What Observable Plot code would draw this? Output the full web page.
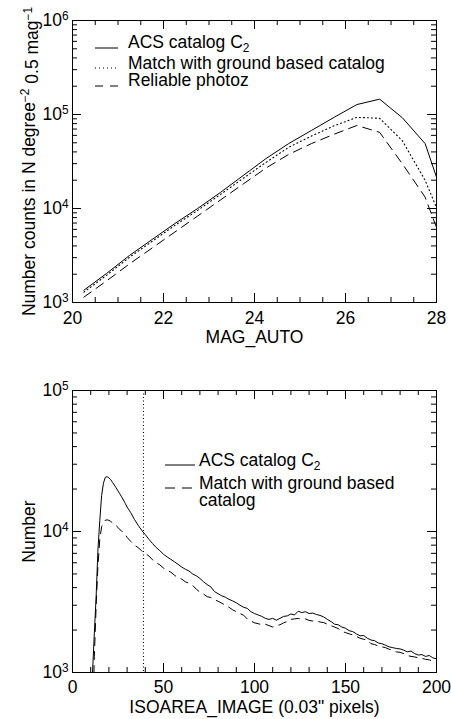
<!DOCTYPE html>
<html><head><meta charset="utf-8">
<script src="https://cdn.jsdelivr.net/npm/d3@7"></script>
<script src="https://cdn.jsdelivr.net/npm/@observablehq/plot@0.6"></script>
<style>
body{margin:0;background:#fff;}
#chart{width:451px;}
#chart svg{display:block;}
</style></head><body><div id="chart"></div>
<script>
// ---- Top panel: number counts vs MAG_AUTO ----
const magBins = [20.25, 20.75, 21.25, 21.75, 22.25, 22.75, 23.25, 23.75, 24.25, 24.75, 25.25, 25.75, 26.25, 26.75, 27.25, 27.75, 28.25];
const acsCounts = [1350, 2040, 3160, 4680, 6920, 10000, 14800, 22400, 33900, 49000, 67600, 93300, 127600, 145600, 92300, 49000, 9500];
const matchCounts = [1290, 1950, 3020, 4470, 6610, 9550, 14100, 20900, 30900, 44700, 58900, 75900, 93300, 91200, 52500, 19950, 5250];
const photozCounts = [1140, 1700, 2570, 3800, 5620, 8320, 12300, 18200, 26900, 37600, 49000, 61700, 76400, 64600, 29900, 13200, 3000];
const magTicks = [20, 22, 24, 26, 28];
const magMinorTicks = [20.5, 21, 21.5, 22.5, 23, 23.5, 24.5, 25, 25.5, 26.5, 27, 27.5];
const topDecades = [1e3, 1e4, 1e5, 1e6];
const topLegend = ["ACS catalog C", "Match with ground based catalog", "Reliable photoz"];

// ---- Bottom panel: number vs ISOAREA_IMAGE ----
const areaX = [10,11,12,13,14,15,16,17,18,19,20,21,22,23,24,25,26,27,28,29,30,
  32,34,36,38,40,42,44,46,48,50,52,54,56,58,60,62,64,66,68,70,72,74,76,78,80,82,84,86,88,90,
  92,94,96,98,100,102,104,106,108,110,112,114,116,118,120,122,124,126,128,130,132,134,136,138,140,
  142,144,146,148,150,152,154,156,158,160,162,164,166,168,170,172,174,176,178,180,182,184,186,188,190,
  192,194,196,198,200];
const areaAcs = [200,1000,1900,3500,7500,12000,18000,22000,24200,24500,24000,23300,22300,21300,20400,19400,18500,17600,16700,15800,14900,
  13600,12200,11100,10200,9500,8800,8200,7700,7300,6900,6600,6350,6100,5850,5600,5400,5250,5000,4850,4650,4400,4200,4050,3750,3620,3500,3420,3300,3220,3120,
  3000,2900,2850,2700,2620,2560,2500,2420,2380,2420,2350,2420,2500,2520,2600,2560,2720,2660,2700,2620,2640,2580,2540,2480,2380,
  2300,2200,2180,2100,2060,1980,1950,1880,1820,1830,1750,1700,1680,1620,1600,1560,1520,1500,1480,1470,1440,1400,1420,1360,1330,
  1340,1300,1320,1270,1250];
const areaMatch = [100,400,1300,3000,5800,8800,10800,11600,12000,12100,12000,11800,11500,11200,11000,10700,10300,10100,9800,9500,9100,
  8500,8000,7700,7300,7000,6700,6300,6000,5800,5500,5300,5150,4900,4700,4600,4400,4300,4150,3900,3720,3600,3450,3400,3280,3200,3100,3000,2900,2780,2700,
  2620,2550,2400,2320,2250,2220,2180,2200,2150,2100,2150,2180,2250,2300,2380,2400,2420,2380,2400,2340,2320,2330,2280,2260,2200,
  2150,2100,2050,1950,1920,1880,1850,1800,1750,1720,1700,1600,1580,1540,1520,1500,1460,1440,1400,1390,1360,1320,1300,1290,1270,
  1260,1240,1230,1200,1200];
const areaTicks = [0, 50, 100, 150, 200];
const areaMinorTicks = [10,20,30,40,60,70,80,90,110,120,130,140,160,170,180,190];
const areaCut = [39];
const bottomDecades = [1e3, 1e4, 1e5];
const bottomLegend = ["ACS catalog C", "Match with ground based", "catalog"];

const FONT = "Liberation Sans, Arial, Helvetica, sans-serif";
const W = 451, ML = 72, MR = 15;
const FW = W - ML - MR;   // frame width
const FH = 282;           // frame height
const minorLog = (decs) => decs.slice(0, -1).flatMap(d => [2,3,4,5,6,7,8,9].map(m => m * d));
const supFmt = d => "10^" + Math.round(Math.log10(d));

function frameAxes(xMaj, xMin, yMaj, xLabel, yLabel, xFmt, xTickPad, xLabelOffset, yLabelOffset) {
  const yMin = minorLog(yMaj);
  const tk = {stroke: "black", strokeWidth: 1};
  return [
    Plot.frame({stroke: "black", strokeWidth: 1}),
    // inward ticks on all four sides
    Plot.ruleX(xMaj, {x: d => d, insetTop: FH - 9, ...tk}),
    Plot.ruleX(xMin, {x: d => d, insetTop: FH - 5, ...tk}),
    Plot.ruleX(xMaj, {x: d => d, insetBottom: FH - 9, ...tk}),
    Plot.ruleX(xMin, {x: d => d, insetBottom: FH - 5, ...tk}),
    Plot.ruleY(yMaj, {y: d => d, insetRight: FW - 9, ...tk}),
    Plot.ruleY(yMin, {y: d => d, insetRight: FW - 5, ...tk}),
    Plot.ruleY(yMaj, {y: d => d, insetLeft: FW - 9, ...tk}),
    Plot.ruleY(yMin, {y: d => d, insetLeft: FW - 5, ...tk}),
    // tick labels and axis titles
    Plot.axisX(xMaj, {anchor: "bottom", tickSize: 0, tickPadding: xTickPad, tickFormat: xFmt,
      label: xLabel, labelAnchor: "center", labelArrow: "none", labelOffset: xLabelOffset}),
    Plot.axisY(yMaj, {anchor: "left", tickSize: 0, tickPadding: 4, tickFormat: supFmt,
      label: yLabel, labelAnchor: "center", labelArrow: "none", labelOffset: yLabelOffset})
  ];
}

function fixSuperscripts(svg) {
  d3.select(svg).selectAll('g[aria-label="y-axis tick label"] text').each(function() {
    const t = d3.select(this);
    const s = t.text();
    if (!s.startsWith("10^")) return;
    const e = s.slice(3);
    t.text("10");
    t.append("tspan").attr("dy", "-0.55em").attr("font-size", "0.68em").text(e);
  });
}

function addLegend(svg, rows) {
  const g = d3.select(svg).append("g").attr("font-family", FONT).attr("font-size", 17.5)
    .attr("fill", "black").attr("text-anchor", "start");
  for (const r of rows) {
    if (r.x2 > r.x1) {
      g.append("line").attr("x1", r.x1).attr("x2", r.x2).attr("y1", r.ly).attr("y2", r.ly)
        .attr("stroke", "black").attr("stroke-width", 1).attr("stroke-dasharray", r.dash || null);
    }
    const t = g.append("text").attr("x", r.tx).attr("y", r.ty).text(r.text);
    if (r.sub) t.append("tspan").attr("dy", "0.3em").attr("font-size", "0.68em").text(r.sub);
  }
}

const topPlot = Plot.plot({
  width: W, height: 355,
  marginLeft: ML, marginRight: MR, marginTop: 20, marginBottom: 53,
  style: {fontFamily: FONT, fontSize: "17.5px", color: "black", background: "white"},
  x: {domain: [20, 28], axis: null},
  y: {type: "log", domain: [1e3, 1e6], axis: null},
  marks: [
    ...frameAxes(magTicks, magMinorTicks, topDecades, "MAG_AUTO", "Number counts in N degree-2 0.5 mag-1", d => String(d), 9, 40, 50),
    Plot.line(magBins, {x: d => d, y: (d, i) => acsCounts[i], stroke: "black", strokeWidth: 1, clip: true}),
    Plot.line(magBins, {x: d => d, y: (d, i) => matchCounts[i], stroke: "black", strokeWidth: 1.1, strokeDasharray: "1,3", clip: true}),
    Plot.line(magBins, {x: d => d, y: (d, i) => photozCounts[i], stroke: "black", strokeWidth: 1, strokeDasharray: "9,6", clip: true})
  ]
});
fixSuperscripts(topPlot);
d3.select(topPlot).selectAll('g[aria-label="y-axis label"] text').each(function() {
  const t = d3.select(this);
  t.text("Number counts in N degree");
  t.append("tspan").attr("dy", "-0.5em").attr("font-size", "0.68em").text("\u22122");
  t.append("tspan").attr("dy", "0.5em").text(" 0.5 mag");
  t.append("tspan").attr("dy", "-0.5em").attr("font-size", "0.68em").text("\u22121");
});
addLegend(topPlot, [
  {x1: 95, x2: 118, ly: 48, tx: 128, ty: 48, text: topLegend[0], sub: "2"},
  {x1: 95, x2: 118, ly: 68, dash: "1,3", tx: 128, ty: 69, text: topLegend[1]},
  {x1: 95, x2: 118, ly: 86, dash: "8,7", tx: 128, ty: 86, text: topLegend[2]}
]);

const bottomPlot = Plot.plot({
  width: W, height: 364,
  marginLeft: ML, marginRight: MR, marginTop: 35, marginBottom: 47,
  style: {fontFamily: FONT, fontSize: "17.5px", color: "black", background: "white"},
  x: {domain: [0, 200], axis: null},
  y: {type: "log", domain: [1e3, 1e5], axis: null},
  marks: [
    ...frameAxes(areaTicks, areaMinorTicks, bottomDecades, "ISOAREA_IMAGE (0.03\" pixels)", "Number", d => String(d), 8, 40, 50),
    Plot.ruleX(areaCut, {x: d => d, stroke: "black", strokeWidth: 1.1, strokeDasharray: "1,2.5"}),
    Plot.line(areaX, {x: d => d, y: (d, i) => areaAcs[i], stroke: "black", strokeWidth: 1, clip: true}),
    Plot.line(areaX, {x: d => d, y: (d, i) => areaMatch[i], stroke: "black", strokeWidth: 1, strokeDasharray: "8,6", clip: true})
  ]
});
fixSuperscripts(bottomPlot);
addLegend(bottomPlot, [
  {x1: 165, x2: 195, ly: 110, tx: 199, ty: 111, text: bottomLegend[0], sub: "2"},
  {x1: 165, x2: 195, ly: 133, dash: "10,7", tx: 199, ty: 134, text: bottomLegend[1]},
  {x1: 0, x2: 0, ly: 0, tx: 199, ty: 151, text: bottomLegend[2]}
]);

document.getElementById("chart").append(topPlot, bottomPlot);
</script>
</body></html>
